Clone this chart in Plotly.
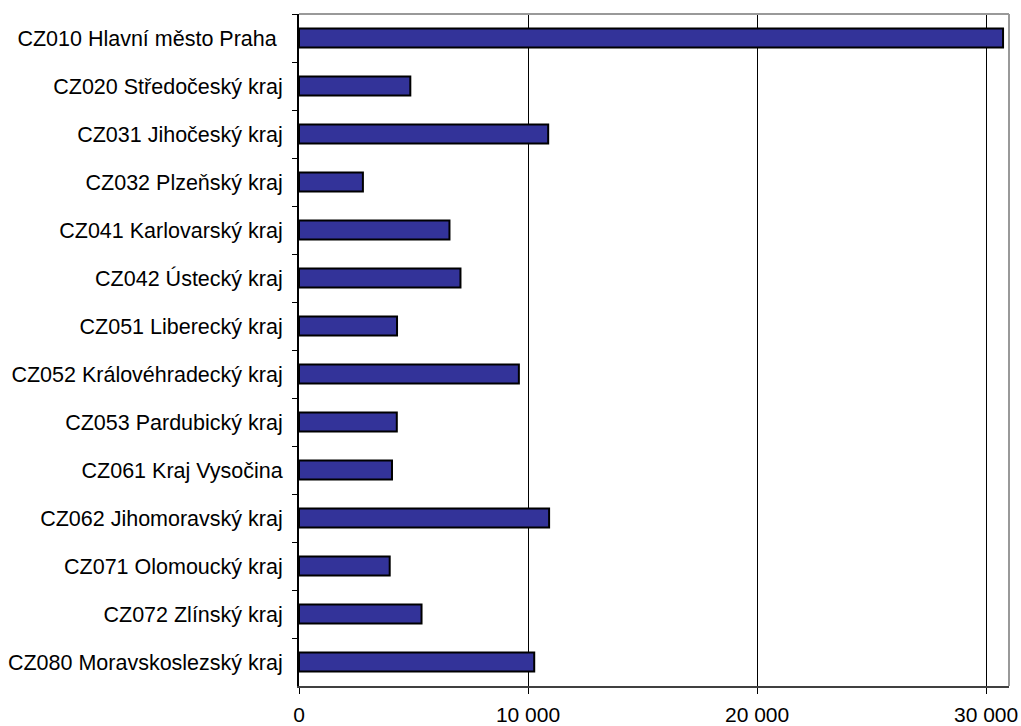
import plotly.graph_objects as go

regions = [
    "CZ010 Hlavní město Praha ",
    "CZ020 Středočeský kraj",
    "CZ031 Jihočeský kraj",
    "CZ032 Plzeňský kraj",
    "CZ041 Karlovarský kraj",
    "CZ042 Ústecký kraj",
    "CZ051 Liberecký kraj",
    "CZ052 Královéhradecký kraj",
    "CZ053 Pardubický kraj",
    "CZ061 Kraj Vysočina",
    "CZ062 Jihomoravský kraj",
    "CZ071 Olomoucký kraj",
    "CZ072 Zlínský kraj",
    "CZ080 Moravskoslezský kraj",
]
values = [30740, 4860, 10880, 2790, 6570, 7050, 4280, 9600, 4270, 4060, 10920, 3960, 5350, 10270]

x_tickvals = [0, 10000, 20000, 30000]
x_ticktext = ["0", "10 000", "20 000", "30 000"]

FONT = "Liberation Sans, Arial, sans-serif"

fig = go.Figure(
    go.Bar(
        y=regions,
        x=values,
        orientation="h",
        marker=dict(color="#333399", line=dict(color="#000000", width=2)),
        hoverinfo="x+y",
    )
)

fig.update_layout(
    width=1021,
    height=726,
    margin=dict(l=299, r=12, t=14, b=40),
    paper_bgcolor="white",
    plot_bgcolor="white",
    bargap=0.6,
    showlegend=False,
    font=dict(family=FONT, size=21.5, color="#000000"),
    xaxis=dict(
        range=[0, 31000],
        tickvals=x_tickvals,
        ticktext=x_ticktext,
        showgrid=True,
        gridcolor="#000000",
        gridwidth=1,
        zeroline=False,
        showline=True,
        linecolor="#404040",
        linewidth=2,
        ticks="outside",
        ticklen=6,
        tickcolor="#000000",
        tickwidth=1,
        ticklabelstandoff=3,
        automargin=False,
        tickfont=dict(family=FONT, size=21, color="#000000"),
    ),
    yaxis=dict(
        type="category",
        autorange="reversed",
        showgrid=False,
        zeroline=False,
        showline=True,
        linecolor="#000000",
        linewidth=2,
        ticks="outside",
        ticklen=5,
        tickcolor="#000000",
        tickwidth=1,
        tickson="boundaries",
        ticklabelstandoff=10,
        automargin=False,
        tickfont=dict(family=FONT, size=21.5, color="#000000"),
    ),
    shapes=[
        dict(type="line", xref="paper", yref="paper", x0=0, x1=1, y0=1, y1=1,
             line=dict(color="#999999", width=2)),
        dict(type="line", xref="paper", yref="paper", x0=1, x1=1, y0=0, y1=1,
             line=dict(color="#999999", width=2)),
    ],
)

# Remove the default 8px page margin so the figure fills the window exactly.
fig.write_html(
    "out.html",
    config={"displayModeBar": False},
    post_script="document.body.style.margin='0';document.body.style.overflow='hidden';",
)
